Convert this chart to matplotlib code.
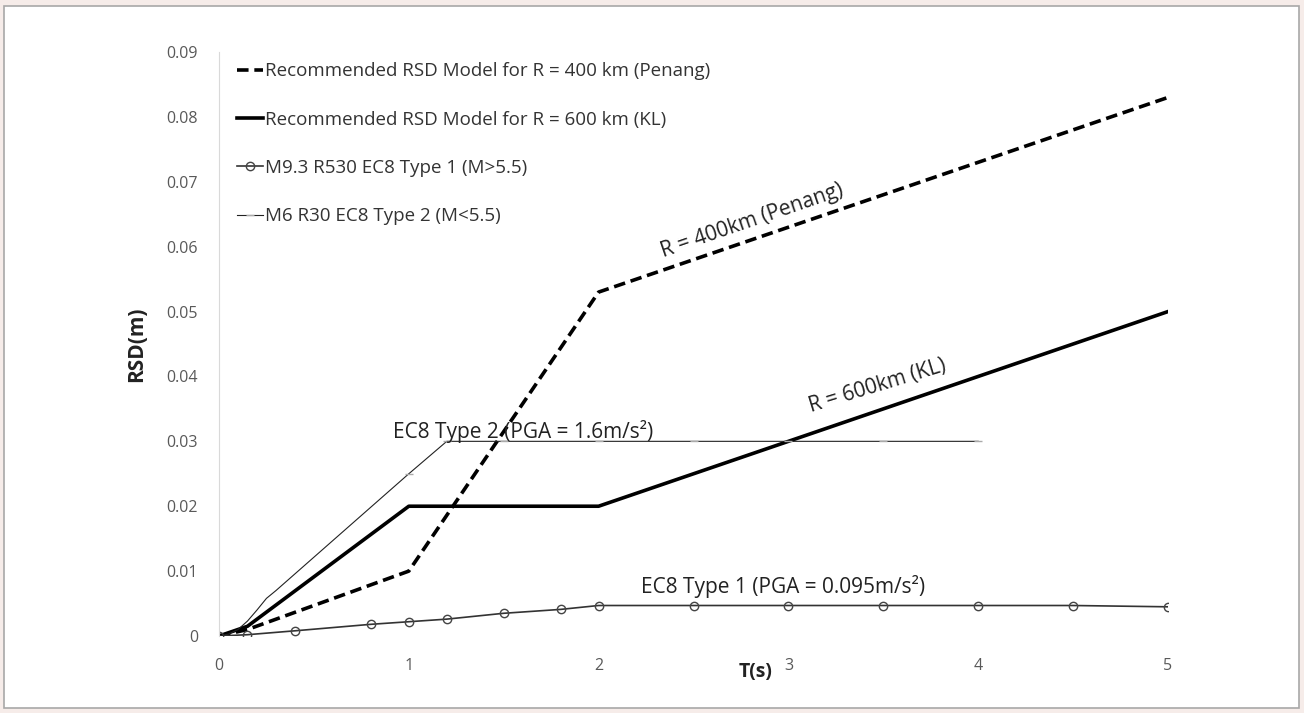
import matplotlib
matplotlib.use("Agg")
import matplotlib.pyplot as plt
from matplotlib.patches import Rectangle

plt.rcParams['font.family'] = ['Open Sans', 'DejaVu Sans']

# R = 400 km (Penang) recommended model
t_400 = [0, 0.15, 1.0, 2.0, 5.0]
rsd_400 = [0, 0.001, 0.010, 0.053, 0.083]

# R = 600 km (KL) recommended model
t_600 = [0, 0.15, 1.0, 2.0, 5.0]
rsd_600 = [0, 0.0015, 0.020, 0.020, 0.050]

# EC8 Type 1
t_type1 = [0, 0.15, 0.4, 0.8, 1.0, 1.2, 1.5, 1.8, 2.0, 2.5, 3.0, 3.5, 4.0, 4.5, 5.0]
rsd_type1 = [0, 0.0002, 0.0008, 0.0018, 0.0022, 0.0026, 0.0035, 0.0041, 0.0047,
             0.0047, 0.0047, 0.0047, 0.0047, 0.0047, 0.0045]

# EC8 Type 2
t_type2 = [0, 0.05, 0.1, 0.15, 0.2, 0.25, 0.3, 1.0, 1.2, 1.5, 2.0, 2.5, 3.0, 3.5, 4.0]
rsd_type2 = [0, 0.0003, 0.001, 0.0023, 0.0040, 0.0058, 0.0070, 0.025, 0.030, 0.030,
             0.030, 0.030, 0.030, 0.030, 0.030]

labels = ["Recommended RSD Model for R = 400 km (Penang)",
          "Recommended RSD Model for R = 600 km (KL)",
          "M9.3 R530 EC8 Type 1 (M>5.5)",
          "M6 R30 EC8 Type 2 (M<5.5)"]

fig = plt.figure(figsize=(13.04, 7.13), dpi=100, facecolor='#f6ece9')
fig.patches.append(Rectangle((4 / 1304, 5 / 713), 1295 / 1304, 702 / 713,
                             transform=fig.transFigure, facecolor='white',
                             edgecolor='#a8a8a8', linewidth=1.2, zorder=-10))

ax = fig.add_axes([219 / 1304, 77 / 713, 949 / 1304, 584 / 713])
ax.set_facecolor('none')

ax.plot(t_400, rsd_400, color='black', lw=2.6, ls=(0, (3.2, 1.6)), label=labels[0])
ax.plot(t_600, rsd_600, color='black', lw=2.6, label=labels[1])
ax.plot(t_type1, rsd_type1, color='#333333', lw=1.2, marker='o', markersize=6,
        markerfacecolor='none', markeredgecolor='#444444', markeredgewidth=1.0,
        label=labels[2])
ax.plot(t_type2, rsd_type2, color='#222222', lw=0.8, marker='_', markersize=6,
        markeredgecolor='#aaaaaa', markevery=list(range(7, len(t_type2))),
        label=labels[3])

ax.set_xlim(0, 5)
ax.set_ylim(0, 0.09)
ax.set_xticks([0, 1, 2, 3, 4, 5])
ax.set_yticks([0, 0.01, 0.02, 0.03, 0.04, 0.05, 0.06, 0.07, 0.08, 0.09])
ax.set_yticklabels(["0", "0.01", "0.02", "0.03", "0.04", "0.05", "0.06", "0.07", "0.08", "0.09"])
ax.tick_params(axis='both', length=0, labelsize=11.5, labelcolor='#595959')
ax.tick_params(axis='x', pad=16)
ax.tick_params(axis='y', pad=15)

for s in ['top', 'right', 'bottom']:
    ax.spines[s].set_visible(False)
ax.spines['left'].set_color('#d9d9d9')

ax.set_ylabel("RSD(m)", fontsize=15, fontweight='bold', color='#222222', labelpad=14)
ax.set_xlabel("T(s)", fontsize=14, fontweight='bold', color='#222222')
ax.xaxis.set_label_coords((756 - 219) / 949, -0.045)

ax.text(2.81, 0.0640, "R = 400km (Penang)", fontsize=15, rotation=19,
        ha='center', va='center', color='#222222')
ax.text(3.47, 0.0385, "R = 600km (KL)", fontsize=15, rotation=17,
        ha='center', va='center', color='#222222')
ax.text(1.60, 0.0315, "EC8 Type 2 (PGA = 1.6m/s²)", fontsize=15,
        ha='center', va='center', color='#222222')
ax.text(2.97, 0.0077, "EC8 Type 1 (PGA = 0.095m/s²)", fontsize=15,
        ha='center', va='center', color='#222222')

leg = ax.legend(loc='upper left', bbox_to_anchor=(0.005, 1.005), frameon=False,
                fontsize=13.5, handlelength=1.4, handletextpad=0.1,
                labelspacing=1.62, borderaxespad=0.3)
for txt in leg.get_texts():
    txt.set_color('#333333')

fig.savefig("out.png", dpi=100, facecolor=fig.get_facecolor())
